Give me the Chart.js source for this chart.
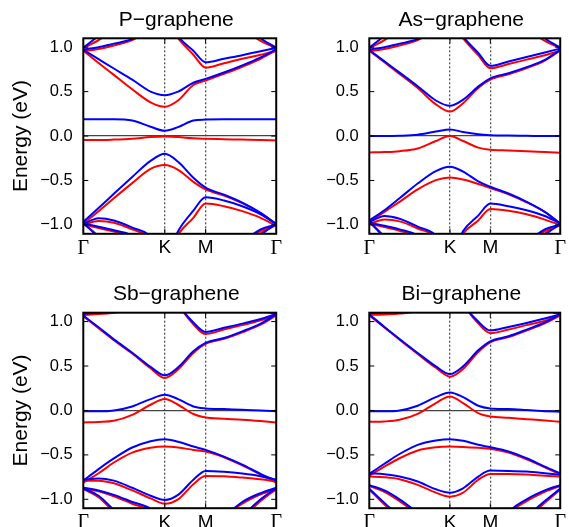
<!DOCTYPE html>
<html>
<head>
<meta charset="utf-8">
<script src="https://cdn.jsdelivr.net/npm/chart.js@4"></script>
<style>
html, body { margin: 0; padding: 0; background: #fff; width: 569px; height: 527px; overflow: hidden; }
canvas { position: absolute; }
</style>
</head>
<body>
<canvas id="c0" width="285" height="274" style="left:0px;top:0px"></canvas>
<canvas id="c1" width="284" height="274" style="left:285px;top:0px"></canvas>
<canvas id="c2" width="285" height="274" style="left:0px;top:274px"></canvas>
<canvas id="c3" width="284" height="274" style="left:285px;top:274px"></canvas>
<script>
// k-path positions (Γ -> K -> M -> Γ) where bands were read
const KPATH = [0, 0.25, 0.5, 0.8, 1.1, 1.333, 1.55, 1.8, 2.0, 2.3, 2.6, 2.9, 3.155];
const KTICK_POS = [0, 1.333, 2.0, 3.155];
const KTICK_LABELS = ['Γ', 'K', 'M', 'Γ'];
const E_TICKS = [-1, -0.5, 0, 0.5, 1];
const TITLES = ['P−graphene', 'As−graphene', 'Sb−graphene', 'Bi−graphene'];

// band energies (eV), blue = one spin, red = other
const P_BLUE = [
  [0.19, 0.19, 0.19, 0.175, 0.105, 0.06, 0.10, 0.175, 0.185, 0.19, 0.19, 0.19, 0.19],
  [0.97, 0.865, 0.76, 0.635, 0.50, 0.46, 0.50, 0.60, 0.643, 0.715, 0.795, 0.885, 0.975],
  [0.975, 1.0, 1.04, 1.09, 1.2, 1.35, 1.12, 0.96, 0.83, 0.87, 0.91, 0.955, 0.99],
  [0.995, 1.13, 1.3, 1.5, 1.6, 1.6, 1.6, 1.6, 1.6, 1.5, 1.3, 1.1, 0.995],
  [-0.966, -0.81, -0.65, -0.46, -0.28, -0.20, -0.29, -0.47, -0.58, -0.66, -0.75, -0.865, -0.99],
  [-0.99, -0.925, -0.95, -1.03, -1.13, -1.4, -1.07, -0.84, -0.69, -0.725, -0.79, -0.88, -0.99],
  [-0.975, -1.15, -1.4, -1.6, -1.7, -1.7, -1.7, -1.7, -1.7, -1.6, -1.4, -1.12, -0.99],
  [-0.985, -1.02, -1.06, -1.12, -1.3, -1.5, -1.5, -1.5, -1.5, -1.4, -1.2, -1.05, -0.995]
];
const P_RED = [
  [-0.045, -0.045, -0.04, -0.03, -0.012, -0.005, -0.012, -0.025, -0.03, -0.035, -0.04, -0.045, -0.05],
  [0.96, 0.823, 0.688, 0.526, 0.38, 0.33, 0.40, 0.575, 0.624, 0.70, 0.78, 0.87, 0.965],
  [0.955, 0.98, 1.02, 1.08, 1.2, 1.3, 1.10, 0.915, 0.77, 0.82, 0.87, 0.915, 0.96],
  [0.99, 1.08, 1.2, 1.4, 1.6, 1.6, 1.6, 1.6, 1.6, 1.4, 1.22, 1.07, 0.99],
  [-0.985, -0.846, -0.70, -0.53, -0.37, -0.327, -0.38, -0.515, -0.60, -0.67, -0.755, -0.87, -0.99],
  [-1.0, -0.955, -0.975, -1.05, -1.15, -1.4, -1.11, -0.92, -0.76, -0.79, -0.845, -0.92, -1.01],
  [-0.985, -1.13, -1.35, -1.6, -1.7, -1.7, -1.7, -1.7, -1.7, -1.6, -1.35, -1.1, -1.0],
  [-0.995, -1.035, -1.075, -1.14, -1.3, -1.5, -1.5, -1.5, -1.5, -1.4, -1.2, -1.07, -1.0]
];
const AS_BLUE = [
  [0.0, 0.0, 0.003, 0.015, 0.05, 0.075, 0.045, 0.02, 0.01, 0.005, 0.003, 0.0, 0.0],
  [0.97, 0.84, 0.714, 0.56, 0.40, 0.34, 0.41, 0.556, 0.65, 0.707, 0.775, 0.857, 0.97],
  [0.975, 1.0, 1.04, 1.09, 1.2, 1.35, 1.12, 0.935, 0.79, 0.84, 0.89, 0.94, 0.985],
  [0.995, 1.13, 1.3, 1.5, 1.6, 1.6, 1.6, 1.6, 1.6, 1.5, 1.3, 1.1, 0.995],
  [-0.95, -0.835, -0.70, -0.534, -0.395, -0.346, -0.40, -0.51, -0.57, -0.647, -0.74, -0.853, -0.985],
  [-0.97, -0.90, -0.93, -1.02, -1.12, -1.4, -1.07, -0.895, -0.76, -0.79, -0.835, -0.90, -0.985],
  [-0.96, -1.15, -1.4, -1.6, -1.7, -1.7, -1.7, -1.7, -1.7, -1.6, -1.4, -1.12, -0.99],
  [-0.975, -1.01, -1.05, -1.12, -1.3, -1.5, -1.5, -1.5, -1.5, -1.4, -1.2, -1.05, -0.995]
];
const AS_RED = [
  [-0.184, -0.18, -0.17, -0.14, -0.056, 0.0, -0.056, -0.13, -0.155, -0.162, -0.17, -0.18, -0.188],
  [0.96, 0.83, 0.70, 0.54, 0.357, 0.275, 0.37, 0.54, 0.635, 0.695, 0.765, 0.85, 0.965],
  [0.955, 0.98, 1.02, 1.08, 1.2, 1.3, 1.10, 0.91, 0.763, 0.81, 0.86, 0.91, 0.96],
  [0.99, 1.08, 1.2, 1.4, 1.6, 1.6, 1.6, 1.6, 1.6, 1.4, 1.22, 1.07, 0.99],
  [-0.966, -0.853, -0.74, -0.60, -0.496, -0.466, -0.49, -0.54, -0.585, -0.655, -0.745, -0.855, -0.985],
  [-0.99, -0.94, -0.96, -1.04, -1.14, -1.4, -1.10, -0.95, -0.82, -0.84, -0.88, -0.94, -1.0],
  [-0.97, -1.13, -1.35, -1.6, -1.7, -1.7, -1.7, -1.7, -1.7, -1.6, -1.35, -1.1, -1.0],
  [-0.985, -1.025, -1.065, -1.14, -1.3, -1.5, -1.5, -1.5, -1.5, -1.4, -1.2, -1.07, -1.0]
];
const SB_BLUE = [
  [-0.01, -0.01, 0.0, 0.045, 0.128, 0.177, 0.128, 0.045, 0.023, 0.015, 0.008, 0.0, -0.01],
  [1.068, 0.936, 0.80, 0.65, 0.49, 0.395, 0.485, 0.665, 0.76, 0.815, 0.89, 0.977, 1.08],
  [1.085, 1.15, 1.3, 1.5, 1.6, 1.5, 1.2, 0.99, 0.883, 0.93, 0.977, 1.03, 1.085],
  [1.09, 1.10, 1.12, 1.2, 1.4, 1.6, 1.6, 1.6, 1.6, 1.5, 1.3, 1.15, 1.09],
  [-0.79, -0.66, -0.54, -0.417, -0.346, -0.323, -0.353, -0.406, -0.444, -0.52, -0.61, -0.714, -0.79],
  [-0.78, -0.765, -0.79, -0.87, -0.96, -1.007, -0.95, -0.78, -0.68, -0.69, -0.71, -0.74, -0.78],
  [-0.875, -0.96, -1.12, -1.3, -1.5, -1.6, -1.6, -1.6, -1.6, -1.5, -1.2, -1.0, -0.875],
  [-0.87, -0.9, -0.95, -1.03, -1.11, -1.3, -1.4, -1.4, -1.4, -1.2, -1.03, -0.93, -0.87]
];
const SB_RED = [
  [-0.135, -0.13, -0.117, -0.05, 0.064, 0.128, 0.064, -0.04, -0.08, -0.094, -0.105, -0.12, -0.135],
  [1.06, 0.925, 0.79, 0.64, 0.475, 0.365, 0.46, 0.647, 0.75, 0.805, 0.88, 0.965, 1.07],
  [1.075, 1.15, 1.3, 1.5, 1.6, 1.5, 1.2, 0.97, 0.86, 0.91, 0.96, 1.015, 1.07],
  [1.075, 1.085, 1.1, 1.13, 1.2, 1.4, 1.6, 1.6, 1.6, 1.5, 1.3, 1.14, 1.08],
  [-0.812, -0.707, -0.586, -0.474, -0.42, -0.406, -0.417, -0.444, -0.462, -0.526, -0.617, -0.722, -0.812],
  [-0.79, -0.79, -0.82, -0.90, -0.99, -1.05, -1.0, -0.83, -0.737, -0.74, -0.755, -0.775, -0.80],
  [-0.885, -0.975, -1.14, -1.3, -1.5, -1.6, -1.6, -1.6, -1.6, -1.5, -1.22, -1.02, -0.885],
  [-0.875, -0.91, -0.965, -1.05, -1.13, -1.3, -1.4, -1.4, -1.4, -1.2, -1.05, -0.945, -0.88]
];
const BI_BLUE = [
  [-0.01, -0.01, 0.0, 0.053, 0.15, 0.203, 0.15, 0.053, 0.023, 0.015, 0.004, -0.008, -0.015],
  [1.08, 0.94, 0.805, 0.647, 0.496, 0.41, 0.496, 0.677, 0.778, 0.835, 0.91, 0.99, 1.08],
  [1.09, 1.15, 1.3, 1.5, 1.6, 1.5, 1.2, 1.0, 0.90, 0.94, 0.985, 1.035, 1.08],
  [1.095, 1.10, 1.12, 1.2, 1.4, 1.6, 1.6, 1.6, 1.6, 1.5, 1.3, 1.15, 1.095],
  [-0.714, -0.60, -0.49, -0.387, -0.338, -0.323, -0.342, -0.387, -0.414, -0.462, -0.538, -0.632, -0.707],
  [-0.707, -0.718, -0.744, -0.80, -0.887, -0.925, -0.876, -0.744, -0.677, -0.68, -0.688, -0.707, -0.725],
  [-0.84, -0.9, -1.0, -1.15, -1.3, -1.5, -1.5, -1.5, -1.5, -1.15, -1.0, -0.9, -0.84],
  [-0.88, -1.04, -1.2, -1.4, -1.5, -1.6, -1.6, -1.6, -1.6, -1.4, -1.2, -1.02, -0.88]
];
const BI_RED = [
  [-0.128, -0.124, -0.105, -0.038, 0.083, 0.158, 0.083, -0.03, -0.068, -0.083, -0.098, -0.113, -0.128],
  [1.07, 0.935, 0.795, 0.635, 0.48, 0.38, 0.466, 0.658, 0.767, 0.825, 0.90, 0.98, 1.07],
  [1.075, 1.15, 1.3, 1.5, 1.6, 1.5, 1.2, 0.98, 0.87, 0.91, 0.96, 1.01, 1.07],
  [1.075, 1.08, 1.09, 1.13, 1.3, 1.5, 1.6, 1.6, 1.6, 1.5, 1.3, 1.14, 1.08],
  [-0.733, -0.632, -0.538, -0.45, -0.414, -0.406, -0.41, -0.42, -0.432, -0.475, -0.55, -0.64, -0.72],
  [-0.744, -0.752, -0.774, -0.838, -0.925, -0.97, -0.925, -0.78, -0.714, -0.714, -0.72, -0.735, -0.744],
  [-0.85, -0.915, -1.02, -1.17, -1.3, -1.5, -1.5, -1.5, -1.5, -1.17, -1.02, -0.915, -0.85],
  [-0.89, -1.06, -1.22, -1.4, -1.5, -1.6, -1.6, -1.6, -1.6, -1.4, -1.22, -1.04, -0.89]
];

const SANS = '"Liberation Sans", Arial, Helvetica, sans-serif';
const SERIF = '"Liberation Serif", "Times New Roman", serif';

function bandSet(band, color) {
  return {
    data: KPATH.map((k, i) => ({ x: k, y: band[i] })),
    borderColor: color,
    borderWidth: 2,
    pointRadius: 0,
    fill: false,
    cubicInterpolationMode: 'monotone'
  };
}

function fmtE(v) {
  return v.toFixed(1).replace('-', '\u2212');
}

// frame, inner tics and panel title (gnuplot look)
const framePlugin = {
  id: 'frame',
  afterDraw(chart, args, opts) {
    const { ctx, chartArea: a, scales: { x, y } } = chart;
    ctx.save();
    ctx.strokeStyle = '#000';
    ctx.lineWidth = 1;
    ctx.beginPath();
    E_TICKS.forEach(v => {
      const py = y.getPixelForValue(v);
      ctx.moveTo(a.left, py); ctx.lineTo(a.left + 5, py);
      ctx.moveTo(a.right, py); ctx.lineTo(a.right - 5, py);
    });
    [1, 2].forEach(i => {
      const px = x.getPixelForValue(KTICK_POS[i]);
      ctx.moveTo(px, a.bottom); ctx.lineTo(px, a.bottom - 5);
      ctx.moveTo(px, a.top); ctx.lineTo(px, a.top + 5);
    });
    ctx.stroke();
    ctx.lineWidth = 2;
    ctx.strokeRect(a.left, a.top, a.right - a.left, a.bottom - a.top);
    ctx.fillStyle = '#000';
    ctx.font = '21px ' + SANS;
    ctx.textAlign = 'center';
    ctx.textBaseline = 'alphabetic';
    ctx.fillText(opts.text, (a.left + a.right) / 2 - 3.5, a.top - 12.5);
    ctx.restore();
  }
};

function makePanel(id, title, blue, red, opt) {
  const datasets = [];
  blue.forEach(b => datasets.push(bandSet(b, '#0000ff')));
  red.forEach(b => datasets.push(bandSet(b, '#ff0000')));
  new Chart(document.getElementById(id), {
    type: 'line',
    data: { datasets },
    options: {
      responsive: false,
      animation: false,
      events: [],
      layout: { padding: { top: opt.padT, right: opt.padR, bottom: opt.padB, left: 0 } },
      plugins: {
        legend: { display: false },
        tooltip: { enabled: false },
        frame: { text: title }
      },
      scales: {
        x: {
          type: 'linear',
          min: 0,
          max: KTICK_POS[3],
          afterBuildTicks: s => { s.ticks = KTICK_POS.map(v => ({ value: v })); },
          afterFit: s => { s.height = 30; },
          grid: {
            drawTicks: false,
            lineWidth: 1.3,
            color: c => (c.index === 1 || c.index === 2) ? '#555' : 'rgba(0,0,0,0)'
          },
          border: { display: false, dash: [2, 2] },
          ticks: {
            autoSkip: false,
            maxRotation: 0,
            padding: 3,
            color: '#000',
            callback: (v, i) => KTICK_LABELS[i],
            font: c => (c.index === 0 || c.index === 3)
              ? { family: SERIF, size: 20 }
              : { family: SANS, size: 19 }
          }
        },
        y: {
          min: -1.1,
          max: 1.1,
          afterBuildTicks: s => { s.ticks = E_TICKS.map(v => ({ value: v })); },
          afterFit: s => { s.width = opt.yw; },
          grid: {
            drawTicks: false,
            lineWidth: 1.3,
            color: c => (c.tick && c.tick.value === 0) ? '#444' : 'rgba(0,0,0,0)'
          },
          border: { display: false },
          ticks: {
            padding: 10.5,
            color: '#000',
            font: { family: SANS, size: 16.5 },
            callback: v => fmtE(v)
          },
          title: {
            display: opt.yTitle,
            text: 'Energy (eV)',
            color: '#000',
            font: { family: SANS, size: 21 },
            padding: { top: 9, bottom: 0 }
          }
        }
      }
    },
    plugins: [framePlugin]
  });
}

makePanel('c0', TITLES[0], P_BLUE, P_RED, { yw: 83.3, padR: 6.2, padT: 38.3, padB: 10.2, yTitle: true });
makePanel('c1', TITLES[1], AS_BLUE, AS_RED, { yw: 84.3, padR: 4, padT: 38.3, padB: 10.2, yTitle: false });
makePanel('c2', TITLES[2], SB_BLUE, SB_RED, { yw: 83.3, padR: 6.2, padT: 38.7, padB: 9.8, yTitle: true });
makePanel('c3', TITLES[3], BI_BLUE, BI_RED, { yw: 84.3, padR: 4, padT: 38.7, padB: 9.8, yTitle: false });
</script>
</body>
</html>
